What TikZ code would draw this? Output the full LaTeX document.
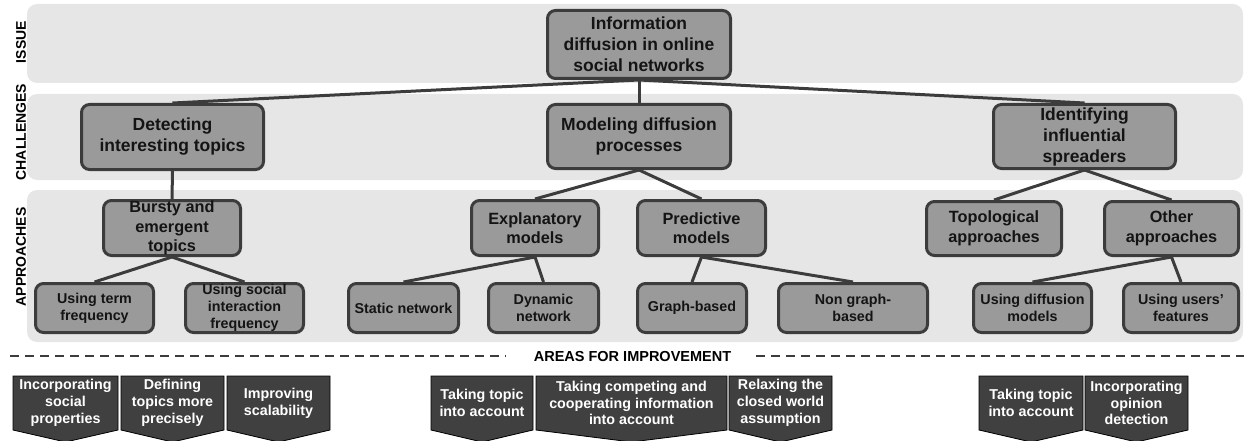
\documentclass[tikz,border=0pt]{standalone}
\usepackage{fontspec}
\setmainfont{Liberation Sans}
\definecolor{bandgray}{HTML}{E6E6E6}
\definecolor{nodegray}{HTML}{9A9A9A}
\definecolor{edgegray}{HTML}{3C3C3C}
\definecolor{arrowdark}{HTML}{404040}
\definecolor{textdark}{HTML}{141414}
\begin{document}
\begin{tikzpicture}[x=1pt,y=-1pt,
  bandbox/.style={fill=bandgray, draw=none, rounded corners=10pt},
  basebox/.style={draw=edgegray, line width=3pt, fill=nodegray, rounded corners=8pt,
    align=center, inner sep=0pt, text=textdark},
  lvlone/.style={basebox, font=\bfseries\fontsize{17.5}{21}\selectfont},
  lvltwo/.style={basebox, font=\bfseries\fontsize{16.3}{19.5}\selectfont},
  leafbox/.style={basebox, font=\bfseries\fontsize{14.3}{16.8}\selectfont},
  conn/.style={draw=edgegray, line width=3pt},
  sidelab/.style={rotate=90, font=\bfseries\fontsize{14}{16}\selectfont, text=black, inner sep=0pt},
  pentshape/.style={fill=arrowdark, draw=black, line width=0.8pt},
  pentext/.style={align=center, inner sep=0pt, text=white, font=\bfseries\fontsize{14.3}{16.8}\selectfont},
  dashline/.style={draw=edgegray, line width=1.3pt, dash pattern=on 8.5pt off 6.5pt}
]
\useasboundingbox (0,0) rectangle (1244,441);

% bands
\path[bandbox] (27,4) rectangle (1243,83);
\path[bandbox] (27,94) rectangle (1243,180);
\path[bandbox] (27,190) rectangle (1243,342);

% side labels
\node[sidelab] (lissue) at (21,42) {ISSUE};
\node[sidelab] (lchall) at (21,132) {CHALLENGES};
\node[sidelab] (lappr) at (21,257) {APPROACHES};

% level 1
\node[lvlone, minimum width=183pt, minimum height=68pt] (top) at (639,44.5) {Information\\diffusion in online\\social networks};
% challenges
\node[lvlone, minimum width=182pt, minimum height=65pt] (det) at (172.5,137) {Detecting\\interesting topics};
\node[lvlone, minimum width=183pt, minimum height=64pt] (mod) at (639,136.5) {Modeling diffusion\\processes};
\node[lvlone, minimum width=182pt, minimum height=64pt] (ide) at (1084.5,136.5) {Identifying\\influential\\spreaders};
% approaches
\node[lvltwo, minimum width=137pt, minimum height=55pt] (bur) at (172,228) {Bursty and\\emergent\\topics};
\node[lvltwo, minimum width=127pt, minimum height=55pt] (exp) at (535,228) {Explanatory\\models};
\node[lvltwo, minimum width=128pt, minimum height=55pt] (pre) at (701.5,228) {Predictive\\models};
\node[lvltwo, minimum width=135pt, minimum height=54pt] (topo) at (994,228.5) {Topological\\approaches};
\node[lvltwo, minimum width=134pt, minimum height=54pt] (oth) at (1171.5,228.5) {Other\\approaches};
% leaves
\node[leafbox, minimum width=118pt, minimum height=49pt] (utf) at (94.5,308) {Using term\\frequency};
\node[leafbox, minimum width=118pt, minimum height=49pt] (usi) at (244.5,308) {Using social\\interaction\\frequency};
\node[leafbox, minimum width=110pt, minimum height=49pt] (sta) at (403.5,308) {Static network};
\node[leafbox, minimum width=110pt, minimum height=49pt] (dyn) at (543.5,308) {Dynamic\\network};
\node[leafbox, minimum width=109pt, minimum height=49pt] (gra) at (692,308) {Graph-based};
\node[leafbox, minimum width=149pt, minimum height=49pt] (non) at (853,308) {Non graph-\\based};
\node[leafbox, minimum width=118pt, minimum height=49pt] (udm) at (1032.5,308) {Using diffusion\\models};
\node[leafbox, minimum width=115pt, minimum height=49pt] (uuf) at (1181,308) {Using users{\char39}\\features};

% connectors
\draw[conn] (top.south) -- (det.north);
\draw[conn] (top.south) -- (mod.north);
\draw[conn] (top.south) -- (ide.north);
\draw[conn] (det.south) -- (bur.north);
\draw[conn] (mod.south) -- (exp.north);
\draw[conn] (mod.south) -- (pre.north);
\draw[conn] (ide.south) -- (topo.north);
\draw[conn] (ide.south) -- (oth.north);
\draw[conn] (bur.south) -- (utf.north);
\draw[conn] (bur.south) -- (usi.north);
\draw[conn] (exp.south) -- (sta.north);
\draw[conn] (exp.south) -- (dyn.north);
\draw[conn] (pre.south) -- (gra.north);
\draw[conn] (pre.south) -- (non.north);
\draw[conn] (oth.south) -- (udm.north);
\draw[conn] (oth.south) -- (uuf.north);

% areas for improvement
\node[font=\bfseries\fontsize{14.5}{16}\selectfont, text=black, inner sep=0pt] (areas) at (632.5,357) {AREAS FOR IMPROVEMENT};
\coordinate (dl0) at (10,356);
\coordinate (dl1) at (506,356);
\coordinate (dr0) at (756,356);
\coordinate (dr1) at (1244,356);
\draw[dashline] (dl0) -- (dl1);
\draw[dashline] (dr0) -- (dr1);

% pentagons
\newcommand{\pentbox}[4]{%
  \path[pentshape] (#1,376) -- (#2,376) -- (#2,430) -- ({(#1+#2)/2},442) -- (#1,430) -- cycle;
  \node[pentext] (#3) at ({(#1+#2)/2},403) {#4};
}
\pentbox{13}{118}{pa}{Incorporating\\social\\properties}
\pentbox{121}{224}{pb}{Defining\\topics more\\precisely}
\pentbox{227}{330}{pc}{Improving\\scalability}
\pentbox{431}{533}{pd}{Taking topic\\into account}
\pentbox{536}{727}{pe}{Taking competing and\\cooperating information\\into account}
\pentbox{729}{832}{pf}{Relaxing the\\closed world\\assumption}
\pentbox{979}{1083}{pg}{Taking topic\\into account}
\pentbox{1085}{1188}{ph}{Incorporating\\opinion\\detection}
\end{tikzpicture}
\end{document}
